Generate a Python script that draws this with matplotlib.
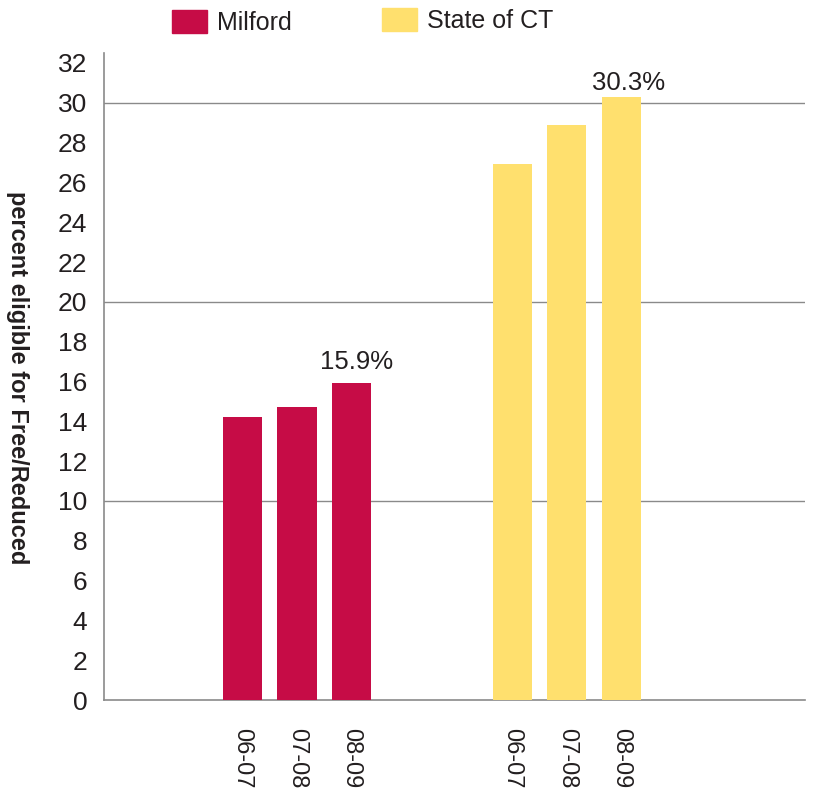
import matplotlib
matplotlib.use("Agg")
import matplotlib.pyplot as plt
import matplotlib.patches as mpatches

plt.rcParams.update({
    'font.family': ['Liberation Sans', 'DejaVu Sans'],
    'text.color': '#231F20',
    'xtick.color': '#231F20',
    'ytick.color': '#231F20',
})

years = ["06-07", "07-08", "08-09"]
milford = [14.2, 14.7, 15.9]
state = [26.9, 28.9, 30.3]
milford_pos = [0, 1, 2]
state_pos = [4.95, 5.95, 6.95]

RED = "#C60C46"
YELLOW = "#FFE06E"
GRID = "#8A8A8A"

W, H = 817, 791
fig = plt.figure(figsize=(W / 100, H / 100), dpi=100)
ax = fig.add_axes([0.1273, 0.115, 0.858, 0.818])

ax.bar(milford_pos, milford, width=0.72, color=RED, zorder=3)
ax.bar(state_pos, state, width=0.72, color=YELLOW, zorder=3)

ax.text(milford_pos[-1] + 0.1, milford[-1] + 0.5, f"{milford[-1]}%",
        ha="center", va="bottom", fontsize=18.5)
ax.text(state_pos[-1] + 0.13, state[-1] + 0.1, f"{state[-1]}%",
        ha="center", va="bottom", fontsize=18.5)

ax.set_xlim(-2.54, 10.32)
ax.set_ylim(0, 32.5)
ax.set_yticks(range(0, 33, 2))
ax.set_xticks(milford_pos + state_pos)
ax.set_xticklabels(years + years, rotation=270)
ax.tick_params(axis="both", length=0)
ax.tick_params(axis="x", pad=20, labelsize=17)
ax.tick_params(axis="y", pad=12, labelsize=19)

for v in (10, 20, 30):
    ax.axhline(v, color=GRID, linewidth=1.0, zorder=1)

for s in ("top", "right"):
    ax.spines[s].set_visible(False)
ax.spines["left"].set_color(GRID)
ax.spines["bottom"].set_color(GRID)
ax.spines["left"].set_linewidth(1.2)
ax.spines["bottom"].set_linewidth(1.2)

fig.text(17 / W, 1 - 378 / H, "percent eligible for Free/Reduced", rotation=270,
         ha="center", va="center", fontsize=17, fontweight="bold")

# legend drawn by hand: swatch + label
legend_items = [("Milford", RED, 172, 10), ("State of CT", YELLOW, 382, 8)]
for label, color, x0, y0 in legend_items:
    fig.add_artist(mpatches.Rectangle((x0 / W, 1 - (y0 + 23) / H), 35 / W, 23 / H,
                                      transform=fig.transFigure, color=color))
    fig.text((x0 + 45) / W, 1 - (y0 + 13.5) / H, label, ha="left", va="center",
             fontsize=18)

plt.savefig("out.png", dpi=100)
